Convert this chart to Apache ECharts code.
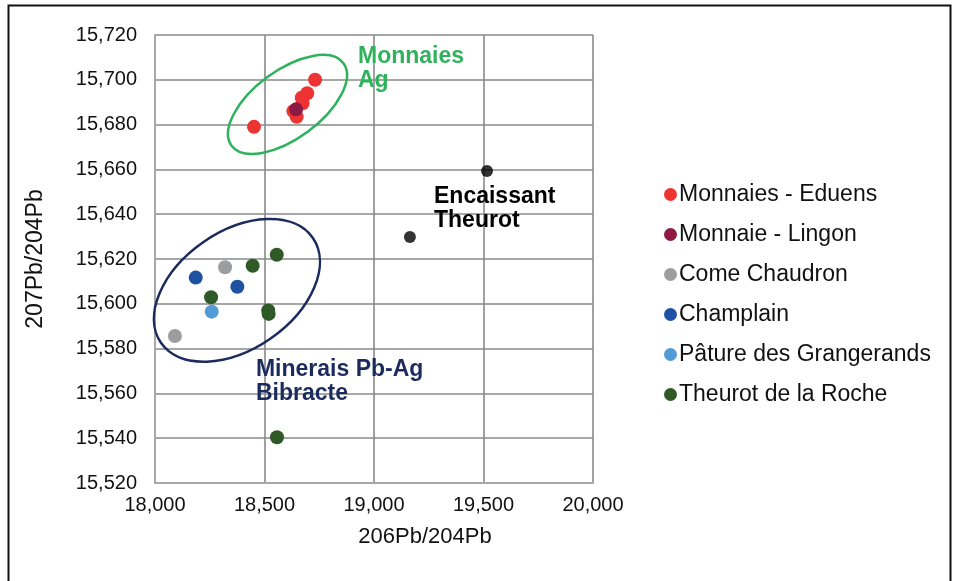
<!DOCTYPE html>
<html><head><meta charset="utf-8">
<script src="https://cdn.jsdelivr.net/npm/echarts@6/dist/echarts.min.js"></script>
<style>html,body{margin:0;padding:0;background:#fff}#c{width:959px;height:581px}</style>
</head><body><div id="c"></div>
<script>
// ---- data ----
const seriesNames = ['Monnaies - Eduens','Monnaie - Lingon','Come Chaudron','Champlain','Pâture des Grangerands','Theurot de la Roche'];
const eduens = [[18.452,15.679],[18.731,15.700],[18.695,15.694],[18.670,15.692],[18.674,15.6895],[18.647,15.6835],[18.632,15.686]];
const lingon = [[18.644,15.6868]];
const comeChaudron = [[18.320,15.6163],[18.091,15.5856]];
const champlain = [[18.186,15.6117],[18.376,15.6076]];
const pature = [[18.259,15.5965]];
const theurot = [[18.556,15.6219],[18.446,15.617],[18.256,15.6029],[18.517,15.597],[18.519,15.5955],[18.557,15.5404]];
const encaissant = [[19.516,15.6593],[19.164,15.6298]];
const xTicks = {min:18, max:20, interval:0.5};
const yTicks = {min:15.52, max:15.72, interval:0.02};
// annotation ellipses: centres (data coordinates)
const ellipseCentres = [[18.605,15.689],[18.374,15.606]];
const annotationTexts = ['Monnaies\nAg','Encaissant\nTheurot','Minerais Pb-Ag\nBibracte'];
const annotationAnchors = [[18.927,15.7158],[19.274,15.6533],[18.461,15.5758]];

const colors = ['#ee3333','#8c1a42','#9b9d9f','#1f51a3','#539bd6','#2f5a28'];
const fmt = v => v.toFixed(3).replace('.', ',');
const font = '"Liberation Sans", Arial, Helvetica, sans-serif';

const chart = echarts.init(document.getElementById('c'), null, {renderer:'canvas'});
const dataSets = [eduens, lingon, comeChaudron, champlain, pature, theurot];
const scatterSeries = dataSets.map((d,i)=>({
  name: seriesNames[i], type:'scatter', data:d, symbolSize:14, z:3,
  itemStyle:{color:colors[i], opacity:1}
}));
const ellStyles = [
  {rx:69.5, ry:34, ang:36.4, color:'#2eb25c'},
  {rx:92.3, ry:58.8, ang:34.6, color:'#1c2b5e'}
];
const annStyles = [
  {color:'#2eb25c'},{color:'#000'},{color:'#1c2b5e'}
];
chart.setOption({
  animation:false,
  backgroundColor:'#fff',
  textStyle:{fontFamily:font},
  grid:{left:155, top:35, right:366, bottom:98, containLabel:false},
  graphic:[{type:'rect', shape:{x:8.5,y:5.5,width:942,height:600}, style:{fill:'none', stroke:'#111', lineWidth:2}, z:-1}],
  legend:{
    data: seriesNames.map(n=>({name:n, icon:'circle'})),
    orient:'vertical', left:659, top:178, itemWidth:13, itemHeight:13, itemGap:17,
    textStyle:{fontSize:23, color:'#111', fontFamily:font, lineHeight:23, padding:[0,0,0,-3]}
  },
  xAxis:{
    type:'value', min:xTicks.min, max:xTicks.max, interval:xTicks.interval,
    name:'206Pb/204Pb', nameLocation:'middle', nameGap:43,
    nameTextStyle:{fontSize:22, color:'#111', padding:[0,0,0,102]},
    axisLine:{show:true, lineStyle:{color:'#a8a8a8', width:2}},
    axisTick:{show:false},
    axisLabel:{fontSize:20, color:'#111', margin:12, formatter:fmt},
    splitLine:{show:true, lineStyle:{color:'#8a8a8a', width:1.6}}
  },
  yAxis:{
    type:'value', min:yTicks.min, max:yTicks.max, interval:yTicks.interval,
    name:'207Pb/204Pb', nameLocation:'middle', nameGap:108,
    nameTextStyle:{fontSize:23, color:'#111'},
    axisLine:{show:true, lineStyle:{color:'#a8a8a8', width:2}},
    axisTick:{show:false},
    axisLabel:{fontSize:20, color:'#111', margin:18, formatter:fmt},
    splitLine:{show:true, lineStyle:{color:'#8a8a8a', width:1.6}}
  },
  series:[
    ...scatterSeries,
    {name:'Encaissant', type:'scatter', data:encaissant, symbolSize:12, itemStyle:{color:'#000'}, z:3},
    {name:'ellipses', type:'custom', data:ellipseCentres, z:2, silent:true,
      renderItem:(params, api)=>{
        const p = api.coord([api.value(0), api.value(1)]);
        const s = ellStyles[params.dataIndex];
        return {type:'ellipse', x:p[0], y:p[1], rotation:s.ang*Math.PI/180,
          shape:{cx:0, cy:0, rx:s.rx, ry:s.ry},
          style:{fill:'none', stroke:s.color, lineWidth:2.5}};
      }},
    {name:'annotations', type:'custom', data:annotationAnchors, z:4, silent:true,
      renderItem:(params, api)=>{
        const p = api.coord([api.value(0), api.value(1)]);
        const s = annStyles[params.dataIndex];
        return {type:'text', x:p[0], y:p[1],
          style:{text:annotationTexts[params.dataIndex], fill:s.color, font:'bold 23px '+font, lineHeight:24, align:'left', verticalAlign:'top'}};
      }}
  ]
});
</script></body></html>
